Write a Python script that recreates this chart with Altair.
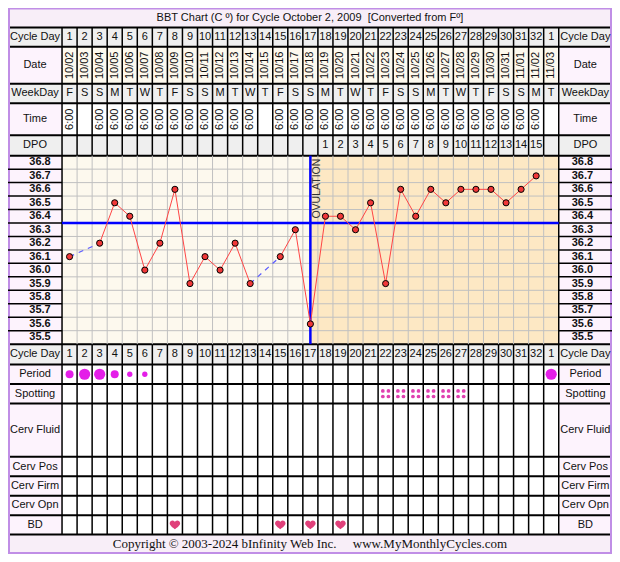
import altair as alt
import pandas as pd

# ---------------- data ----------------
DAYS = list(range(1, 34))
CYCLE_DAY = [str(d) for d in range(1, 33)] + ["1"]
DATES = ["10/02", "10/03", "10/04", "10/05", "10/06", "10/07", "10/08", "10/09",
         "10/10", "10/11", "10/12", "10/13", "10/14", "10/15", "10/16", "10/17",
         "10/18", "10/19", "10/20", "10/21", "10/22", "10/23", "10/24", "10/25",
         "10/26", "10/27", "10/28", "10/29", "10/30", "10/31", "11/01", "11/02", "11/03"]
WEEKDAYS = ["F", "S", "S", "M", "T", "W", "T", "F", "S", "S", "M", "T", "W", "T",
            "F", "S", "S", "M", "T", "W", "T", "F", "S", "S", "M", "T", "W", "T",
            "F", "S", "S", "M", "T"]
TIMES = ["6:00", "", "6:00", "6:00", "6:00", "6:00", "6:00", "6:00", "6:00", "6:00",
         "6:00", "6:00", "6:00", "", "6:00", "6:00", "6:00", "6:00", "6:00", "6:00",
         "6:00", "6:00", "6:00", "6:00", "6:00", "6:00", "6:00", "6:00", "6:00", "6:00",
         "6:00", "6:00", ""]
DPO = [""] * 17 + [str(i) for i in range(1, 16)] + [""]
TEMPS = [36.1, None, 36.2, 36.5, 36.4, 36.0, 36.2, 36.6, 35.9, 36.1,
         36.0, 36.2, 35.9, None, 36.1, 36.3, 35.6, 36.4, 36.4, 36.3,
         36.5, 35.9, 36.6, 36.4, 36.6, 36.5, 36.6, 36.6, 36.6, 36.5,
         36.6, 36.7, None]
TEMP_TICKS = [36.8, 36.7, 36.6, 36.5, 36.4, 36.3, 36.2, 36.1, 36.0,
              35.9, 35.8, 35.7, 35.6, 35.5]
PERIOD_DAYS = [1, 2, 3, 4, 5, 6, 33]
PERIOD_FLOW = ["medium", "heavy", "heavy", "medium", "light", "light", "heavy"]
SPOTTING_DAYS = [22, 23, 24, 25, 26, 27]
BD_DAYS = [8, 15, 17, 19]
COVERLINE = 36.35
OVULATION_DAY = 17
TITLE = "BBT Chart (C º) for Cycle October 2, 2009\u00a0\u00a0[Converted from Fº]"
COPYRIGHT = "Copyright © 2003-2024 bInfinity Web Inc." + "\u00a0" * 5 + "www.MyMonthlyCycles.com"
TOP_ROWS = ["Cycle Day", "Date", "WeekDay", "Time", "DPO"]
BOTTOM_ROWS = ["Cycle Day", "Period", "Spotting", "Cerv Fluid", "Cerv Pos",
               "Cerv Firm", "Cerv Opn", "BD"]

# ---------------- layout / style ----------------
W, H = 604, 546
REF_H = 562
X0, X1 = -3.09, 37.04          # outer edges in day units
C0, C1 = 0.5, 33.5             # first / last day-column edges
TOP_EDGES = [20, 40, 78, 98, 131, 152]
BOTTOM_EDGES = [346, 367, 387, 407, 462, 482, 502, 522, 542]
TEMP_TOP, TEMP_BOT = 152, 346
T_LO, T_HI = 35.45, 36.85
TITLE_Y, COPY_Y = 10, 552

GRAY, PINK, BEIGE, WHITE = "#efefef", "#fdf3fd", "#fdf9ee", "#ffffff"
LUTEAL, BAND, BORDER = "#fde8c4", "#f8eef8", "#c08ee6"
TOP_STYLE = [(GRAY, GRAY), (PINK, BEIGE), (GRAY, GRAY), (PINK, WHITE), (GRAY, GRAY)]
BOTTOM_STYLE = [(GRAY, GRAY)] + [(PINK, WHITE)] * 7
FLOW_AREA = {"light": 28, "medium": 64, "heavy": 125}   # symbol areas (style)
FONT = "Liberation Sans"
SERIF = "Liberation Serif"
TXT = "#111111"
HEART = ("M0,0.85 C-0.3,0.6 -1,0.15 -1,-0.3 C-1,-0.65 -0.72,-0.85 -0.45,-0.85 "
         "C-0.2,-0.85 -0.05,-0.7 0,-0.55 C0.05,-0.7 0.2,-0.85 0.45,-0.85 "
         "C0.72,-0.85 1,-0.65 1,-0.3 C1,0.15 0.3,0.6 0,0.85 Z")

XS = alt.Scale(domain=[X0, X1], nice=False, zero=False)
YS = alt.Scale(domain=[0, REF_H], reverse=True, nice=False, zero=False)
TS = alt.Scale(domain=[T_LO, T_HI], nice=False, zero=False,
               range=[TEMP_BOT * H / REF_H, TEMP_TOP * H / REF_H])


def xq(f="x"):
    return alt.X(f"{f}:Q", scale=XS, axis=None)


def yr(f="y"):
    return alt.Y(f"{f}:Q", scale=YS, axis=None)


def yt(f="t"):
    return alt.Y(f"{f}:Q", scale=TS, axis=None)


LX = (X0 + C0) / 2
RX = (C1 + X1) / 2

# ---------------- group A: table (reference-pixel rows) ----------------
cells = []


def add_cell(x, x2, y, y2, c):
    cells.append(dict(x=x, x2=x2, y=y, y2=y2, c=c))


add_cell(X0, X1, 0, TOP_EDGES[0], BAND)
for i, (lb, cb) in enumerate(TOP_STYLE):
    y, y2 = TOP_EDGES[i], TOP_EDGES[i + 1]
    add_cell(X0, C0, y, y2, lb)
    add_cell(C0, C1, y, y2, cb)
    add_cell(C1, X1, y, y2, lb)
add_cell(X0, C0, TEMP_TOP, TEMP_BOT, PINK)
add_cell(C1, X1, TEMP_TOP, TEMP_BOT, PINK)
add_cell(C0, OVULATION_DAY, TEMP_TOP, TEMP_BOT, BEIGE)
add_cell(OVULATION_DAY, C1, TEMP_TOP, TEMP_BOT, LUTEAL)
for i, (lb, cb) in enumerate(BOTTOM_STYLE):
    y, y2 = BOTTOM_EDGES[i], BOTTOM_EDGES[i + 1]
    add_cell(X0, C0, y, y2, lb)
    add_cell(C0, C1, y, y2, cb)
    add_cell(C1, X1, y, y2, lb)
add_cell(X0, X1, BOTTOM_EDGES[-1], REF_H, BAND)
cells_df = pd.DataFrame(cells)

lines = []
for e in TOP_EDGES + BOTTOM_EDGES:
    lines.append(dict(x=X0, x2=X1, y=e, y2=e, c="#000000", w=2))
for k in range(34):
    lines.append(dict(x=C0 + k, x2=C0 + k, y=TOP_EDGES[0], y2=TOP_EDGES[-1], c="#000000", w=1.5))
    lines.append(dict(x=C0 + k, x2=C0 + k, y=BOTTOM_EDGES[0], y2=BOTTOM_EDGES[-1], c="#000000", w=1.5))
lines.append(dict(x=X0, x2=X0, y=0, y2=REF_H, c=BORDER, w=4))
lines.append(dict(x=X1, x2=X1, y=0, y2=REF_H, c=BORDER, w=4))
lines.append(dict(x=X0, x2=X1, y=0, y2=0, c=BORDER, w=3))
lines.append(dict(x=X0, x2=X1, y=REF_H, y2=REF_H, c=BORDER, w=4))
lines_df = pd.DataFrame(lines)

row_labels = []
for name, y, y2 in zip(TOP_ROWS, TOP_EDGES[:-1], TOP_EDGES[1:]):
    row_labels += [dict(x=LX, y=(y + y2) / 2, text=name), dict(x=RX, y=(y + y2) / 2, text=name)]
for name, y, y2 in zip(BOTTOM_ROWS, BOTTOM_EDGES[:-1], BOTTOM_EDGES[1:]):
    row_labels += [dict(x=LX, y=(y + y2) / 2, text=name), dict(x=RX, y=(y + y2) / 2, text=name)]
row_labels_df = pd.DataFrame(row_labels)


def mid(i, edges):
    return (edges[i] + edges[i + 1]) / 2


flat_text = pd.concat([
    pd.DataFrame({"x": DAYS, "y": mid(0, TOP_EDGES), "text": CYCLE_DAY}),
    pd.DataFrame({"x": DAYS, "y": mid(2, TOP_EDGES), "text": WEEKDAYS}),
    pd.DataFrame({"x": DAYS, "y": mid(4, TOP_EDGES), "text": DPO}),
    pd.DataFrame({"x": DAYS, "y": mid(0, BOTTOM_EDGES), "text": CYCLE_DAY}),
])
rot_text = pd.concat([
    pd.DataFrame({"x": DAYS, "y": mid(1, TOP_EDGES), "text": DATES}),
    pd.DataFrame({"x": DAYS, "y": mid(3, TOP_EDGES), "text": TIMES}),
])
title_df = pd.DataFrame({"x": [(X0 + X1) / 2], "y": [TITLE_Y], "text": [TITLE]})
copy_df = pd.DataFrame({"x": [(X0 + X1) / 2], "y": [COPY_Y], "text": [COPYRIGHT]})

period_df = pd.DataFrame({"x": PERIOD_DAYS, "flow": PERIOD_FLOW, "y": mid(1, BOTTOM_EDGES)})
period_df["area"] = period_df["flow"].map(FLOW_AREA)
spot_df = pd.DataFrame({"x": SPOTTING_DAYS, "y": mid(2, BOTTOM_EDGES)})
bd_df = pd.DataFrame({"x": BD_DAYS, "y": mid(7, BOTTOM_EDGES)})

A_cells = alt.Chart(cells_df).mark_rect(strokeWidth=0).encode(
    x=xq(), x2="x2:Q", y=yr(), y2="y2:Q", color=alt.Color("c:N", scale=None))
A_lines = alt.Chart(lines_df).mark_rule().encode(
    x=xq(), x2="x2:Q", y=yr(), y2="y2:Q",
    color=alt.Color("c:N", scale=None), size=alt.Size("w:Q", scale=None))
A_rowlab = alt.Chart(row_labels_df).mark_text(font=FONT, fontSize=11, color=TXT).encode(
    x=xq(), y=yr(), text="text:N")
A_flat = alt.Chart(flat_text).mark_text(font=FONT, fontSize=11, color=TXT).encode(
    x=xq(), y=yr(), text="text:N")
A_rot = alt.Chart(rot_text).mark_text(font=FONT, fontSize=11, color=TXT, angle=270).encode(
    x=xq(), y=yr(), text="text:N")
A_title = alt.Chart(title_df).mark_text(font=FONT, fontSize=11, color=TXT).encode(
    x=xq(), y=yr(), text="text:N")
A_copy = alt.Chart(copy_df).mark_text(font=SERIF, fontSize=13, color=TXT).encode(
    x=xq(), y=yr(), text="text:N")
A_period = alt.Chart(period_df).mark_point(shape="circle", filled=True,
                                           color="#e41ee8", opacity=1).encode(
    x=xq(), y=yr(), size=alt.Size("area:Q", scale=None, legend=None))
A_spots = [alt.Chart(spot_df).mark_circle(color="#e040b0", opacity=1, size=14,
                                          xOffset=ox, yOffset=oy).encode(x=xq(), y=yr())
           for ox in (-2.8, 2.8) for oy in (-2.8, 2.8)]
A_bd = alt.Chart(bd_df).mark_point(shape=HEART, filled=True, size=110,
                                   color="#e0407a", opacity=1).encode(x=xq(), y=yr())

group_a = alt.layer(A_cells, A_lines, A_rowlab, A_flat, A_rot, A_title, A_copy,
                    A_period, *A_spots, A_bd)

# ---------------- group B: temperature area ----------------
bounds = [round(T_LO + 0.1 * k, 2) for k in range(1, 14)]
grid = []
for b in bounds:
    grid.append(dict(x=C0, x2=C1, t=b, t2=b, c="#c0c0c0", w=1))
for k in range(1, 33):
    grid.append(dict(x=C0 + k, x2=C0 + k, t=T_LO, t2=T_HI, c="#c0c0c0", w=1))
for b in bounds:
    grid.append(dict(x=X0, x2=C0, t=b, t2=b, c="#000000", w=1.5))
    grid.append(dict(x=C1, x2=X1, t=b, t2=b, c="#000000", w=1.5))
grid.append(dict(x=C0, x2=C0, t=T_LO, t2=T_HI, c="#000000", w=1.5))
grid.append(dict(x=C1, x2=C1, t=T_LO, t2=T_HI, c="#000000", w=1.5))
grid_df = pd.DataFrame(grid)

marks_df = pd.DataFrame([
    dict(x=C0, x2=C1, t=COVERLINE, t2=COVERLINE),
    dict(x=OVULATION_DAY, x2=OVULATION_DAY, t=T_LO, t2=T_HI),
])

temp_df = pd.DataFrame({"day": DAYS, "temp": TEMPS})
seg, segs = 0, []
for v in TEMPS:
    if v is None:
        seg += 1
    segs.append(seg)
temp_df["seg"] = segs
valid = temp_df.dropna(subset=["temp"]).reset_index(drop=True)

gap_rows = []
for i in range(1, len(valid)):
    a, b = valid.iloc[i - 1], valid.iloc[i]
    if b["day"] - a["day"] > 1:
        gap_rows.append(dict(day=a["day"], temp=a["temp"], gap=i))
        gap_rows.append(dict(day=b["day"], temp=b["temp"], gap=i))
gap_df = pd.DataFrame(gap_rows)

tick_l = pd.DataFrame({"x": LX, "t": TEMP_TICKS, "text": [f"{v:.1f}" for v in TEMP_TICKS]})
tick_r = pd.DataFrame({"x": RX, "t": TEMP_TICKS, "text": [f"{v:.1f}" for v in TEMP_TICKS]})

B_grid = alt.Chart(grid_df).mark_rule().encode(
    x=xq(), x2="x2:Q", y=yt(), y2="t2:Q",
    color=alt.Color("c:N", scale=None), size=alt.Size("w:Q", scale=None))
B_marks = alt.Chart(marks_df).mark_rule(color="#0000ff", strokeWidth=2.5).encode(
    x=xq(), x2="x2:Q", y=yt(), y2="t2:Q")
B_ticks_l = alt.Chart(tick_l).mark_text(
    font=FONT, fontSize=11, fontWeight="bold", color=TXT, dx=5).encode(
    x=xq(), y=yt(), text="text:N")
B_ticks_r = alt.Chart(tick_r).mark_text(
    font=FONT, fontSize=11, fontWeight="bold", color=TXT, dx=-3).encode(
    x=xq(), y=yt(), text="text:N")
B_gap = alt.Chart(gap_df).mark_line(color="#5a5aff", strokeWidth=1.2, strokeDash=[5, 5]).encode(
    x=xq("day"), y=yt("temp"), detail="gap:N")
B_line = alt.Chart(valid).mark_line(color="#ff4545", strokeWidth=1).encode(
    x=xq("day"), y=yt("temp"), detail="seg:N")
B_pts = alt.Chart(valid).mark_point(shape="circle", filled=True, size=38, fill="#f03838",
                                    stroke="#000000", strokeWidth=1, opacity=1).encode(
    x=xq("day"), y=yt("temp"))
B_ovu = alt.Chart(pd.DataFrame({"x": [OVULATION_DAY], "t": [T_HI], "text": ["OVULATION"]})).mark_text(
    font=FONT, fontSize=10.5, color="#333333", angle=270, align="right",
    baseline="middle", dx=-3, dy=7).encode(x=xq(), y=yt(), text="text:N")

group_b = alt.layer(B_grid, B_marks, B_ticks_l, B_ticks_r, B_gap, B_line, B_pts, B_ovu)

chart = alt.layer(group_a, group_b).resolve_scale(y="independent").properties(
    width=W, height=H, padding=0, autosize="none"
).configure_view(stroke=None).configure(background="white")

chart.save("out.html", embed_options={"renderer": "svg", "actions": False})
